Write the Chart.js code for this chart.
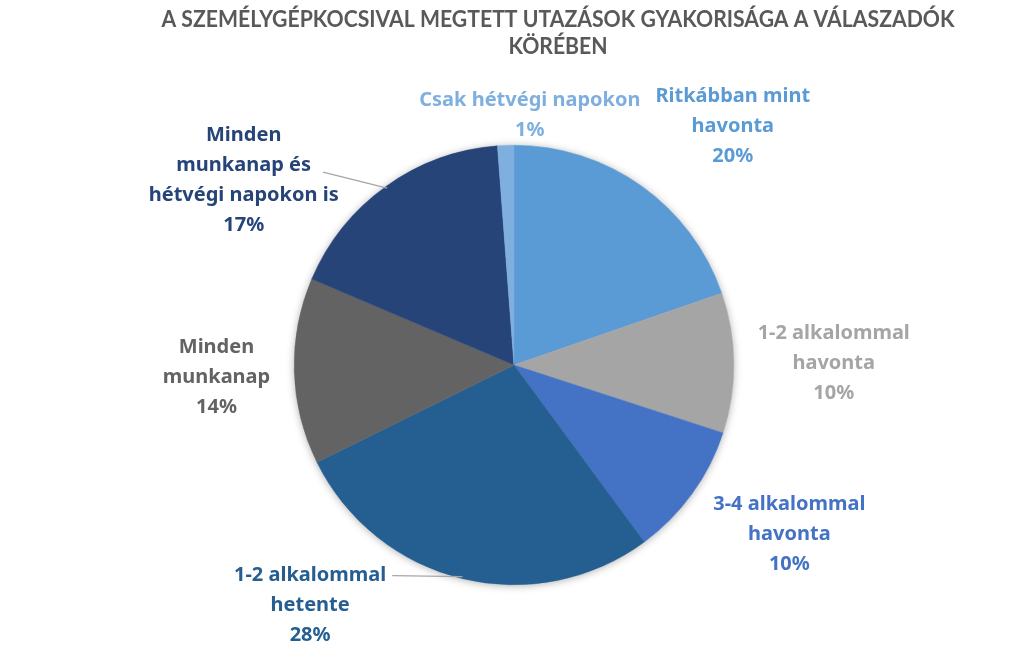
<!DOCTYPE html>
<html>
<head>
<meta charset="utf-8">
<script src="https://cdn.jsdelivr.net/npm/chart.js@4/dist/chart.umd.min.js"></script>
<style>
html,body{margin:0;padding:0;background:#fff;}
#wrap{width:1024px;height:648px;position:relative;}
</style>
</head>
<body>
<div id="wrap"><canvas id="c" width="1024" height="648"></canvas></div>
<script>
const titleLines = ["A SZEMÉLYGÉPKOCSIVAL MEGTETT UTAZÁSOK GYAKORISÁGA A VÁLASZADÓK", "KÖRÉBEN"];
const categories = [
  ["Ritkábban mint", "havonta"],
  ["1-2 alkalommal", "havonta"],
  ["3-4 alkalommal", "havonta"],
  ["1-2 alkalommal", "hetente"],
  ["Minden", "munkanap"],
  ["Minden", "munkanap és", "hétvégi napokon is"],
  ["Csak hétvégi napokon"]
];
const shares = [19.7, 10.3, 9.9, 27.8, 13.7, 17.4, 1.2];
const colors = ["#5B9BD5", "#A5A5A5", "#4472C4", "#255E91", "#636363", "#264478", "#7FAFDF"];
const textColors = ["#5B9BD5", "#A5A5A5", "#4472C4", "#255E91", "#636363", "#264478", "#7FAFDF"];

// label placement: angle offset (deg) from slice mid-angle and distance in radii
const labelPlace = [
  {da: 7.0, r: 1.475},
  {da: 0.2, r: 1.455},
  {da: -4.3, r: 1.47},
  {da: 26.6, r: 1.435},
  {da: -0.7, r: 1.355},
  {da: -20.0, r: 1.49},
  {da: 5.8, r: 1.137}
];
const leaders = {3: {line: 0, dx: 6, dy: 0}, 5: {line: 1, dx: 12, dy: 7}};

const LABEL_FONT = 'bold 20px "Noto Sans", Lato, sans-serif';
const LINE_H = 30;

const shadowPlugin = {
  id: 'pieShadow',
  beforeDatasetsDraw(chart) {
    const arc = chart.getDatasetMeta(0).data[0];
    if (!arc) return;
    const ctx = chart.ctx;
    ctx.save();
    ctx.shadowColor = 'rgba(0,0,0,0.35)';
    ctx.shadowBlur = 9;
    ctx.shadowOffsetX = 0;
    ctx.shadowOffsetY = 1;
    ctx.fillStyle = '#ffffff';
    ctx.beginPath();
    ctx.arc(arc.x, arc.y, arc.outerRadius - 0.5, 0, Math.PI * 2);
    ctx.fill();
    ctx.restore();
  }
};

const labelPlugin = {
  id: 'outLabels',
  afterDatasetsDraw(chart) {
    const ctx = chart.ctx;
    const meta = chart.getDatasetMeta(0);
    const total = shares.reduce((a, b) => a + b, 0);
    ctx.save();
    ctx.font = LABEL_FONT;
    ctx.textAlign = 'center';
    ctx.textBaseline = 'middle';
    meta.data.forEach((arc, i) => {
      const mid = (arc.startAngle + arc.endAngle) / 2; // canvas radians
      const p = labelPlace[i];
      const ang = mid + p.da * Math.PI / 180;
      const cx = arc.x + Math.cos(ang) * arc.outerRadius * p.r;
      const cy = arc.y + Math.sin(ang) * arc.outerRadius * p.r;
      const lines = categories[i].concat([Math.round(shares[i] / total * 100) + '%']);
      const n = lines.length;
      ctx.fillStyle = textColors[i];
      lines.forEach((t, k) => {
        ctx.fillText(t, cx, cy + (k - (n - 1) / 2) * LINE_H);
      });
      const L = leaders[i];
      if (L) {
        const w = ctx.measureText(lines[L.line]).width;
        const ly = cy + (L.line - (n - 1) / 2) * LINE_H + L.dy;
        const lx = cx + w / 2 + L.dx;
        const ex = arc.x + Math.cos(mid) * (arc.outerRadius - 2);
        const ey = arc.y + Math.sin(mid) * (arc.outerRadius - 2);
        ctx.save();
        ctx.strokeStyle = '#A6A6A6';
        ctx.lineWidth = 1.3;
        ctx.beginPath();
        ctx.moveTo(lx, ly);
        ctx.lineTo(ex, ey);
        ctx.stroke();
        ctx.restore();
      }
    });
    ctx.restore();
  }
};

const titlePlugin = {
  id: 'offTitle',
  afterDraw(chart) {
    const ctx = chart.ctx;
    ctx.save();
    ctx.font = 'bold 22px Lato, "Noto Sans", sans-serif';
    ctx.fillStyle = '#595959';
    ctx.textAlign = 'center';
    ctx.textBaseline = 'middle';
    const target = 793;
    const s = Math.min(1, target / ctx.measureText(titleLines[0]).width);
    titleLines.forEach((t, k) => {
      ctx.save();
      ctx.translate(558, 20 + k * 27);
      ctx.scale(s, 1);
      ctx.fillText(t, 0, 0);
      ctx.restore();
    });
    ctx.restore();
  }
};

new Chart(document.getElementById('c'), {
  type: 'pie',
  data: {
    labels: categories.map(c => c.join(' ')),
    datasets: [{
      data: shares,
      backgroundColor: colors,
      borderColor: colors,
      borderWidth: 0.5,
      hoverOffset: 0
    }]
  },
  options: {
    responsive: false,
    animation: false,
    devicePixelRatio: 1,
    layout: {padding: {top: 145, bottom: 63, left: 4, right: 0}},
    plugins: {
      legend: {display: false},
      tooltip: {enabled: false},
      title: {display: false}
    }
  },
  plugins: [shadowPlugin, labelPlugin, titlePlugin]
});
</script>
</body>
</html>
